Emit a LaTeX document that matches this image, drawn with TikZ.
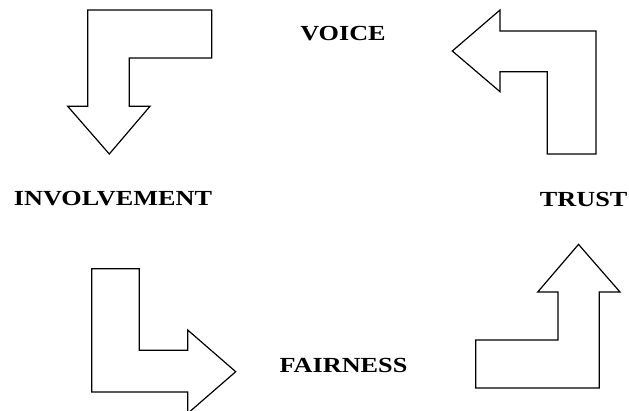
\documentclass[tikz,border=0pt]{standalone}
\usepackage{fontspec}
\setmainfont[FakeStretch=1.22]{Liberation Serif}
\usepackage{tikz}

\begin{document}
\begin{tikzpicture}[x=1pt,y=-1pt,line width=1.2pt,line join=miter,
        lbl/.style={font=\fontsize{21.5}{24}\selectfont\bfseries}]
        \useasboundingbox (0,0) rectangle (629,410);
        % bent arrows
        \draw (87.7,10) -- (211.7,10) -- (211.7,58) -- (129.3,58) -- (129.3,106.3) -- (150,106.3) -- (109.3,154) -- (67.7,106.3) -- (87.7,106.3) -- cycle;
        \draw (452.3,51) -- (500,10) -- (500,31) -- (596,31) -- (596,154) -- (547.3,154) -- (547.3,71.7) -- (500,71.7) -- (500,91.7) -- cycle;
        \draw (91.7,268.7) -- (139.3,268.7) -- (139.3,350.3) -- (187.7,350.3) -- (187.7,330) -- (235.7,371.7) -- (187.7,413.4) -- (187.7,392) -- (91.7,392) -- cycle;
        \draw (475.7,388) -- (599.3,388) -- (599.3,292) -- (620,292) -- (578.5,244.4) -- (537.7,292) -- (558,292) -- (558,340) -- (475.7,340) -- cycle;
        % labels
        \node[lbl] (voice) at (343,34) {VOICE};
        \node[lbl] (involvement) at (113,199) {INVOLVEMENT};
        \node[lbl] (trust) at (583.7,199) {TRUST};
        \node[lbl] (fairness) at (343.5,365) {FAIRNESS};
      \end{tikzpicture}
\end{document}
